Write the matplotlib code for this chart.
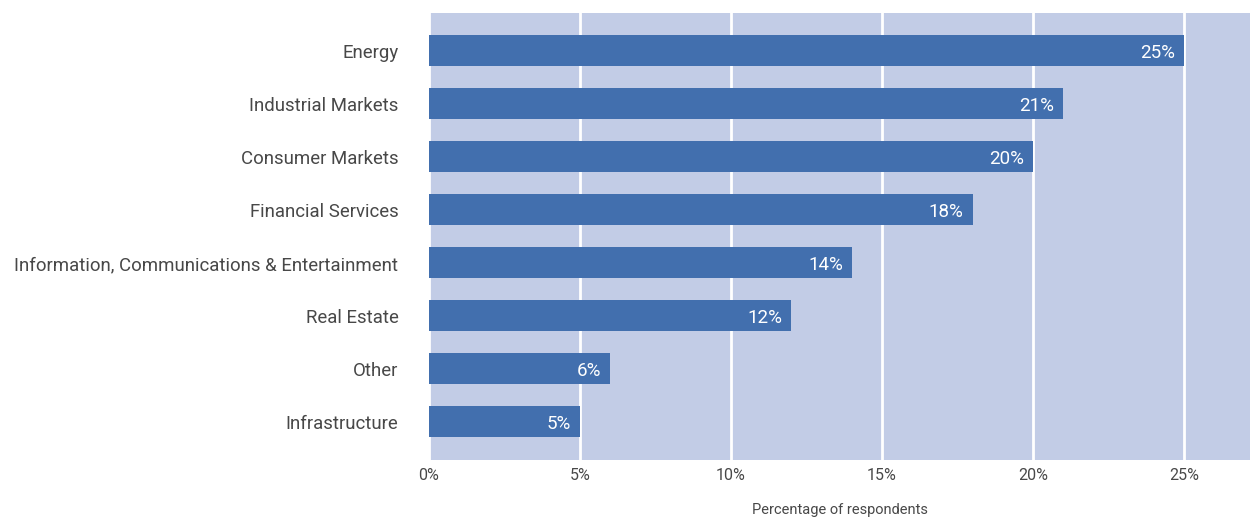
import matplotlib
matplotlib.use('Agg')
import matplotlib.pyplot as plt
from matplotlib.ticker import FuncFormatter

sectors = ["Energy", "Industrial Markets", "Consumer Markets", "Financial Services",
           "Information, Communications & Entertainment", "Real Estate", "Other",
           "Infrastructure"]
values = [25, 21, 20, 18, 14, 12, 6, 5]
ticks = [0, 5, 10, 15, 20, 25]

bg = "#c2cce6"
bar_color = "#426fae"
text_color = "#484848"

plt.rcParams['font.family'] = ['Roboto', 'DejaVu Sans']

fig = plt.figure(figsize=(12.5, 5.19), dpi=100)
ax = fig.add_axes([0.3432, 0.1137, 0.6568, 0.8613])
ax.set_facecolor(bg)

pos = list(range(len(sectors)))
ax.barh(pos, values, height=0.585, color=bar_color, zorder=3)
for p, v in zip(pos, values):
    ax.text(v - 0.3, p + 0.03, f"{v}%", ha='right', va='center', color='white',
            fontsize=13.5, zorder=4)

ax.set_xlim(0, 27.18)
ax.set_ylim(7.717, -0.717)
ax.set_xticks(ticks)
ax.xaxis.set_major_formatter(FuncFormatter(lambda x, _: f"{x:.0f}%"))
ax.set_yticks(pos)
ax.set_yticklabels(sectors)
ax.grid(axis='x', color='white', linewidth=2, zorder=1)
ax.grid(axis='y', visible=False)
for s in ax.spines.values():
    s.set_visible(False)
ax.tick_params(axis='y', length=0, pad=22, labelsize=13.4, labelcolor=text_color)
ax.tick_params(axis='x', length=0, pad=6, labelsize=11.5, labelcolor=text_color)
ax.set_xlabel("Percentage of respondents", fontsize=10.5, color=text_color,
              labelpad=14)

fig.savefig("out.png", dpi=100)
